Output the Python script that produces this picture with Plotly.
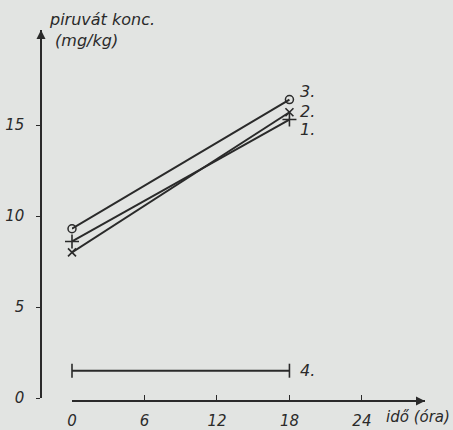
import plotly.graph_objects as go

hours = [0, 18]
s1 = [8.6, 15.3]
s2 = [8.0, 15.7]
s3 = [9.3, 16.4]
s4 = [1.5, 1.5]
series_labels = ["1.", "2.", "3.", "4."]
x_ticks = [0, 6, 12, 18, 24]
y_ticks = [0, 5, 10, 15]

ink = "#2a2a2a"
bg = "#e2e4e2"
font_main = dict(family="DejaVu Sans", size=15, color=ink, style="italic")

fig = go.Figure()
line = dict(color=ink, width=2)
fig.add_trace(go.Scatter(x=hours, y=s1, mode="lines+markers", line=line,
                         marker=dict(symbol="cross-thin", size=10, line=dict(color=ink, width=1.6)),
                         cliponaxis=False))
fig.add_trace(go.Scatter(x=hours, y=s2, mode="lines+markers", line=line,
                         marker=dict(symbol="x-thin", size=8, line=dict(color=ink, width=1.6)),
                         cliponaxis=False))
fig.add_trace(go.Scatter(x=hours, y=s3, mode="lines+markers", line=line,
                         marker=dict(symbol="circle-open", size=8, color=ink, line=dict(color=ink, width=1.5)),
                         cliponaxis=False))
fig.add_trace(go.Scatter(x=hours, y=s4, mode="lines+markers", line=line,
                         marker=dict(symbol="line-ns", size=10, line=dict(color=ink, width=1.6)),
                         cliponaxis=False))

# series number labels
for lab, ys, dy in zip(series_labels, [s1, s2, s3, s4], [-10, 1, 8, 0]):
    fig.add_annotation(x=hours[-1], y=ys[-1], xref="x", yref="y", text=lab,
                       showarrow=False, xanchor="left", xshift=9, yshift=dy,
                       font=dict(family="DejaVu Sans", size=16, color=ink, style="italic"))

W, H = 453, 430
ml, mr, mt, mb = 41, 28, 30, 29
plot_w = W - ml - mr
plot_h = H - mt - mb
x0_px = 72 - ml
px_per_x = 12.08
px_per_y = 18.2
y_bottom_frac = 3 / plot_h


def px_x(px):
    return (px - ml) / plot_w


def px_y(py):
    return (H - mb - py) / plot_h


fig.update_layout(
    width=W, height=H,
    margin=dict(l=ml, r=mr, t=mt, b=mb, autoexpand=False),
    paper_bgcolor=bg, plot_bgcolor=bg,
    showlegend=False,
    xaxis=dict(domain=[x0_px / plot_w, 1], range=[0, (plot_w - x0_px) / px_per_x],
               anchor="free", position=0, automargin=False,
               showline=True, linecolor=ink, linewidth=1.5,
               ticks="inside", ticklen=5, tickwidth=1.3, tickcolor=ink,
               tickvals=x_ticks, ticktext=[str(v) for v in x_ticks],
               tickfont=font_main, ticklabelstandoff=6,
               showgrid=False, zeroline=False),
    yaxis=dict(domain=[y_bottom_frac, 1], range=[0, (plot_h - 3) / px_per_y],
               anchor="free", position=0, automargin=False,
               showline=True, linecolor=ink, linewidth=1.5,
               ticks="outside", ticklen=4, tickwidth=1.3, tickcolor=ink,
               tickvals=y_ticks, ticktext=[str(v) for v in y_ticks],
               tickfont=font_main, ticklabelstandoff=9,
               showgrid=False, zeroline=False),
)

# axis arrows
fig.add_annotation(x=0, y=1, xref="paper", yref="paper", text="", showarrow=True,
                   ax=0, ay=14, arrowhead=2, arrowsize=1.2, arrowwidth=1.5, arrowcolor=ink)
fig.add_annotation(x=1, y=0, xref="paper", yref="paper", text="", showarrow=True,
                   ax=-14, ay=0, arrowhead=2, arrowsize=1.2, arrowwidth=1.5, arrowcolor=ink)

# axis titles
fig.add_annotation(x=px_x(47), y=px_y(8), xref="paper", yref="paper",
                   text="piruvát konc.<br> (mg/kg)", showarrow=False, align="left",
                   xanchor="left", yanchor="top",
                   font=dict(family="DejaVu Sans", size=16, color=ink, style="italic"))
fig.add_annotation(x=px_x(452), y=px_y(428), xref="paper", yref="paper",
                   text="idő (óra)", showarrow=False, xanchor="right", yanchor="bottom",
                   font=dict(family="DejaVu Sans", size=15, color=ink, style="italic"))

fig.write_html("out.html")
